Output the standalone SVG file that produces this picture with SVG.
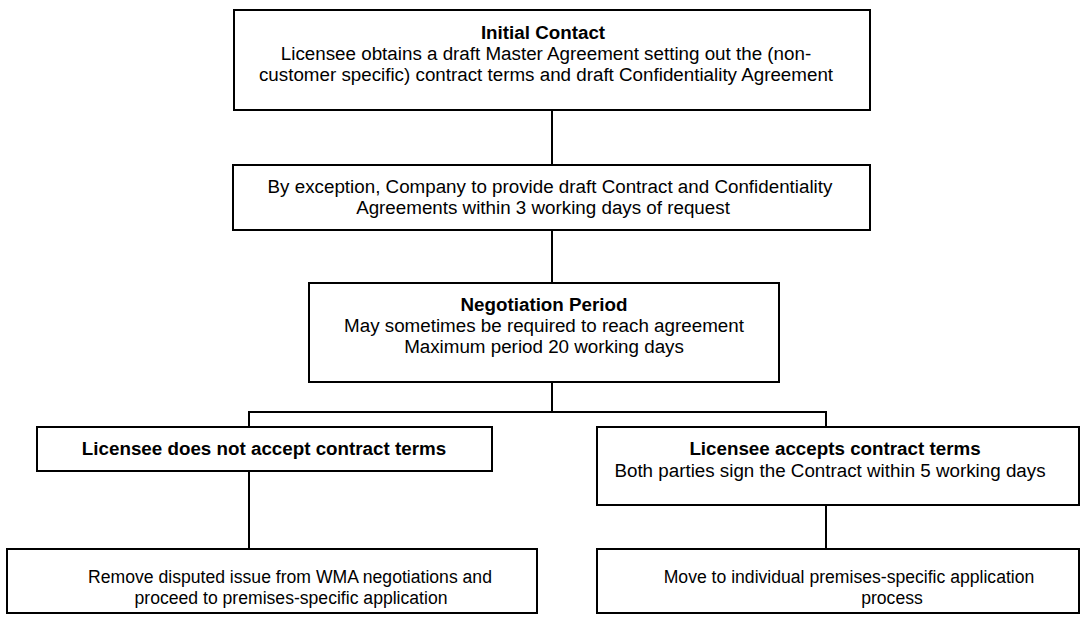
<svg xmlns="http://www.w3.org/2000/svg" width="1080" height="618" viewBox="0 0 1080 618">
<style>
.box{fill:#fff;stroke:#000;stroke-width:2}
.con{fill:none;stroke:#000;stroke-width:2}
text{font-family:"Liberation Sans",Arial,sans-serif;font-size:18.8px;fill:#000;text-anchor:middle}
.b{font-weight:bold}
.s{font-size:17.6px}
</style>
<rect width="1080" height="618" fill="#fff"/>
<g id="connectors">
<line class="con" x1="552" y1="110" x2="552" y2="165"/>
<line class="con" x1="552" y1="230" x2="552" y2="283"/>
<polyline class="con" points="249,427 249,412 826,412 826,427"/>
<line class="con" x1="552" y1="382" x2="552" y2="412"/>
<line class="con" x1="249" y1="471" x2="249" y2="549"/>
<line class="con" x1="826" y1="505" x2="826" y2="549"/>
</g>
<g id="initial-contact">
<rect class="box" x="234" y="10" width="636" height="100"/>
<text class="b" x="543" y="39">Initial Contact</text>
<text x="546" y="60">Licensee obtains a draft Master Agreement setting out the (non-</text>
<text x="546" y="81">customer specific) contract terms and draft Confidentiality Agreement</text>
</g>
<g id="exception">
<rect class="box" x="233" y="165" width="637" height="65"/>
<text x="550" y="193">By exception, Company to provide draft Contract and Confidentiality</text>
<text x="543" y="214">Agreements within 3 working days of request</text>
</g>
<g id="negotiation">
<rect class="box" x="309" y="283" width="470" height="99"/>
<text class="b" x="544" y="311">Negotiation Period</text>
<text x="544" y="332">May sometimes be required to reach agreement</text>
<text x="544" y="353">Maximum period 20 working days</text>
</g>
<g id="not-accept">
<rect class="box" x="37" y="427" width="455" height="44"/>
<text class="b" x="264" y="455">Licensee does not accept contract terms</text>
</g>
<g id="accept">
<rect class="box" x="597" y="427" width="482" height="78"/>
<text class="b" x="835" y="455">Licensee accepts contract terms</text>
<text x="830" y="477">Both parties sign the Contract within 5 working days</text>
</g>
<g id="remove-disputed">
<rect class="box" x="7" y="549" width="530" height="64"/>
<text class="s" x="290" y="583">Remove disputed issue from WMA negotiations and</text>
<text class="s" x="291" y="604">proceed to premises-specific application</text>
</g>
<g id="move-individual">
<rect class="box" x="597" y="549" width="482" height="64"/>
<text class="s" x="849" y="583">Move to individual premises-specific application</text>
<text class="s" x="892" y="604">process</text>
</g>
</svg>
